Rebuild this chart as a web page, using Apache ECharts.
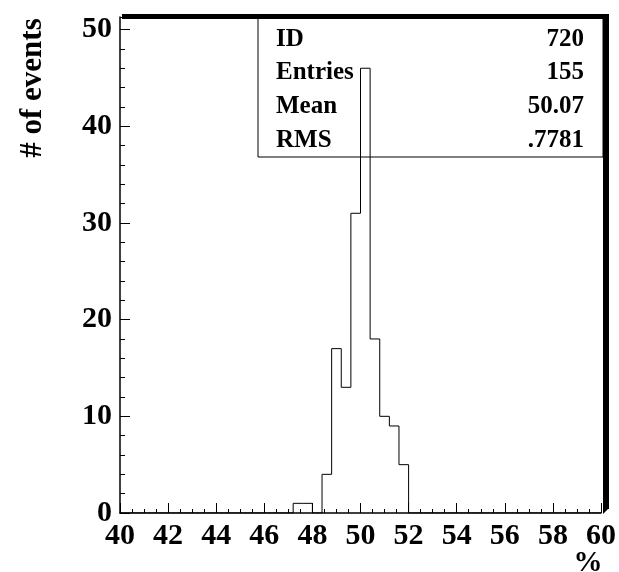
<!DOCTYPE html>
<html>
<head>
<meta charset="utf-8">
<script src="https://cdn.jsdelivr.net/npm/echarts@6/dist/echarts.min.js"></script>
<style>
html,body{margin:0;padding:0;background:#fff;}
#c{width:619px;height:572px;}
</style>
</head>
<body>
<div id="c"></div>
<script>
// Histogram bin edges (%), 0.4 wide
var binEdges = [40.0,40.4,40.8,41.2,41.6,42.0,42.4,42.8,43.2,43.6,
  44.0,44.4,44.8,45.2,45.6,46.0,46.4,46.8,47.2,47.6,
  48.0,48.4,48.8,49.2,49.6,50.0,50.4,50.8,51.2,51.6,
  52.0,52.4,52.8,53.2,53.6,54.0,54.4,54.8,55.2,55.6,
  56.0,56.4,56.8,57.2,57.6,58.0,58.4,58.8,59.2,59.6,60.0];
// Counts per bin
var counts = [0,0,0,0,0,0,0,0,0,0,
  0,0,0,0,0,0,0,0,1,1,
  0,4,17,13,31,46,18,10,9,5,
  0,0,0,0,0,0,0,0,0,0,
  0,0,0,0,0,0,0,0,0,0];
var statLabels = ['ID','Entries','Mean','RMS'];
var statValues = ['720','155','50.07','.7781'];
var xTitle = '%';
var yTitle = '# of events';

var pts = [];
for (var i = 0; i < counts.length; i++) pts.push([binEdges[i], counts[i]]);
pts.push([binEdges[binEdges.length - 1], counts[counts.length - 1]]);

var GL = 120, GR = 16, GT = 17, GB = 59, W = 619, H = 572;
var font = 'Liberation Serif';
var chart = echarts.init(document.getElementById('c'));

var statGfx = [];
var boxL = 258, boxT = GT, boxB = 157, boxR = W - GR;
statGfx.push({type:'rect', shape:{x:boxL, y:boxT, width:boxR-boxL, height:boxB-boxT},
  style:{fill:'none', stroke:'#000', lineWidth:1}, z:5});
var rowY = [40, 73, 107, 141];
for (var k = 0; k < statLabels.length; k++) {
  statGfx.push({type:'text', x:276, y:rowY[k], style:{text:statLabels[k], font:'bold 25px ' + font,
    fill:'#000', textAlign:'left', textVerticalAlign:'middle'}, z:6});
  statGfx.push({type:'text', x:584, y:rowY[k], style:{text:statValues[k], font:'bold 25px ' + font,
    fill:'#000', textAlign:'right', textVerticalAlign:'middle'}, z:6});
}

chart.setOption({
  animation:false,
  backgroundColor:'#fff',
  grid:{left:GL, right:GR, top:GT, bottom:GB},
  xAxis:{type:'value', min:40, max:60, interval:2,
    axisLine:{show:true, onZero:false, lineStyle:{color:'#000', width:1.5}},
    axisTick:{show:true, inside:true, length:10, lineStyle:{color:'#000', width:1}},
    minorTick:{show:true, splitNumber:4, length:4, lineStyle:{color:'#000', width:1}},
    splitLine:{show:false},
    axisLabel:{color:'#000', fontFamily:font, fontWeight:'bold', fontSize:30, margin:8}
  },
  yAxis:{type:'value', min:0, max:51.3, interval:10,
    axisLine:{show:true, lineStyle:{color:'#000', width:1.5}},
    axisTick:{show:true, inside:true, length:10, lineStyle:{color:'#000', width:1}},
    minorTick:{show:true, splitNumber:5, length:5, lineStyle:{color:'#000', width:1}},
    splitLine:{show:false},
    axisLabel:{color:'#000', fontFamily:font, fontWeight:'bold', fontSize:30, margin:8, showMaxLabel:false}
  },
  series:[{type:'line', step:'end', data:pts, symbol:'none',
    lineStyle:{color:'#000', width:1}, z:3}],
  graphic:[
    {type:'rect', shape:{x:GL+2, y:GT-3, width:W-GR-GL+4, height:5}, style:{fill:'#000'}, z:10},
    {type:'rect', shape:{x:W-GR, y:GT-3, width:6, height:H-GB-GT-1}, style:{fill:'#000'}, z:10},
    {type:'polygon', shape:{points:[[W-GR, H-GB-5],[W-GR+6, H-GB-5],[W-GR, H-GB+1]]}, style:{fill:'#000'}, z:10},
    {type:'text', x:33, y:88, rotation:Math.PI/2, style:{text:yTitle, font:'bold 31px ' + font,
      fill:'#000', textAlign:'center', textVerticalAlign:'middle'}},
    {type:'text', x:588, y:564, style:{text:xTitle, font:'bold 29px ' + font,
      fill:'#000', textAlign:'center', textVerticalAlign:'middle'}}
  ].concat(statGfx)
});
</script>
</body>
</html>
